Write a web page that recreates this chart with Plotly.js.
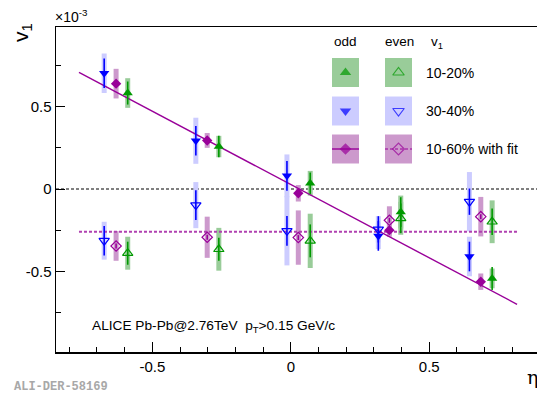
<!DOCTYPE html>
<html><head><meta charset="utf-8">
<script src="https://cdn.plot.ly/plotly-3.0.1.min.js"></script>
<style>html,body{margin:0;padding:0;background:#fff}#chart{width:537px;height:393px}</style>
</head><body><div id="chart"></div>
<script>
// ---------- data (v1 in units of 1e-3) ----------
const etaBlue   = [-0.674, -0.343, -0.014, 0.316, 0.645];
const etaPurple = [-0.631, -0.302,  0.027, 0.356, 0.686];
const etaGreen  = [-0.589, -0.260,  0.070, 0.397, 0.727];

// 10-20% (green)
const v1Odd1020     = [0.583, 0.258, 0.035, -0.140, -0.543];
const statOdd1020   = [0.070, 0.065, 0.065, 0.090, 0.070];
const sysOdd1020    = [0.090, 0.065, 0.075, 0.100, 0.060];
const v1Even1020    = [-0.390, -0.366, -0.315, -0.178, -0.199];
const statEven1020  = [0.070, 0.070, 0.100, 0.090, 0.080];
const sysEven1020   = [0.100, 0.130, 0.165, 0.100, 0.130];
// 30-40% (blue)
const v1Odd3040     = [0.703, 0.293, 0.080, -0.285, -0.410];
const statOdd3040   = [0.090, 0.090, 0.090, 0.090, 0.090];
const sysOdd3040    = [0.120, 0.140, 0.130, 0.080, 0.120];
const v1Even3040    = [-0.314, -0.098, -0.254, -0.245, -0.077];
const statEven3040  = [0.090, 0.090, 0.090, 0.080, 0.080];
const sysEven3040   = [0.115, 0.140, 0.210, 0.080, 0.180];
// 10-60% (purple)
const v1Odd1060     = [0.640, 0.295, -0.026, -0.250, -0.563];
const statOdd1060   = [0.015, 0.015, 0.015, 0.015, 0.015];
const sysOdd1060    = [0.090, 0.045, 0.050, 0.040, 0.050];
const v1Even1060    = [-0.346, -0.293, -0.295, -0.190, -0.168];
const statEven1060  = [0.015, 0.015, 0.015, 0.015, 0.015];
const sysEven1060   = [0.090, 0.125, 0.165, 0.085, 0.120];

// fit of odd 10-60%: v1 = p0 + p1*eta ; even constant level
const fitParams = [0.027, -0.89];
const fitRange  = [-0.765, 0.817];
const evenLevel = [-0.259];

const xTickVals = [-0.5, 0, 0.5];
const xTickText = ['-0.5', '0', '0.5'];
const yTickVals = [-0.5, 0, 0.5];
const yTickText = ['-0.5', '0', '0.5'];

// ---------- styling ----------
const GREEN = '#009900', GREEN_S = '#99cc99';
const BLUE = '#0000ff', BLUE_S = '#ccccff';
const PURP = '#990099', PURP_S = '#cc99cc';
const FONT = 'Liberation Sans, Arial, sans-serif';

// pixel frame
const L = 56, R = 537, T = 27, B = 352;
const px = x => (x - L) / (R - L);
const py = y => (B - y) / (B - T);

function sysTrace(x, y, e, col) {
  return {x, y, type: 'scatter', mode: 'markers', marker: {opacity: 0, size: 1},
    error_y: {type: 'data', array: e, visible: true, color: col, thickness: 5, width: 0},
    hoverinfo: 'skip', showlegend: false};
}
function ptTrace(x, y, e, col, sym, size, open) {
  return {x, y, type: 'scatter', mode: 'markers',
    marker: {symbol: sym, size: size, color: col,
             line: {color: col, width: open ? 1.2 : 0}},
    error_y: {type: 'data', array: e, visible: true, color: col, thickness: 1.6, width: 0},
    showlegend: false};
}

const fitX = fitRange;
const fitY = fitRange.map(x => fitParams[0] + fitParams[1] * x);

const traces = [
  sysTrace(etaBlue, v1Odd3040, sysOdd3040, BLUE_S),
  sysTrace(etaBlue, v1Even3040, sysEven3040, BLUE_S),
  sysTrace(etaPurple, v1Odd1060, sysOdd1060, PURP_S),
  sysTrace(etaPurple, v1Even1060, sysEven1060, PURP_S),
  sysTrace(etaGreen, v1Odd1020, sysOdd1020, GREEN_S),
  sysTrace(etaGreen, v1Even1020, sysEven1020, GREEN_S),
  {x: fitRange, y: [evenLevel[0], evenLevel[0]], type: 'scatter', mode: 'lines',
   line: {color: '#b040b0', width: 2, dash: '3px,2px'}, showlegend: false, hoverinfo: 'skip'},
  {x: fitX, y: fitY, type: 'scatter', mode: 'lines',
   line: {color: PURP, width: 1.4}, showlegend: false, hoverinfo: 'skip'},
  ptTrace(etaBlue, v1Odd3040, statOdd3040, BLUE, 'triangle-down', 9, false),
  ptTrace(etaBlue, v1Even3040, statEven3040, BLUE, 'triangle-down-open', 9, true),
  ptTrace(etaPurple, v1Odd1060, statOdd1060, PURP, 'diamond', 8, false),
  ptTrace(etaPurple, v1Even1060, statEven1060, PURP, 'diamond-open', 8, true),
  ptTrace(etaGreen, v1Odd1020, statOdd1020, GREEN, 'triangle-up', 9, false),
  ptTrace(etaGreen, v1Even1020, statEven1020, GREEN, 'triangle-up-open', 9, true),
];

// ---------- legend (layout decoration, pixel positions) ----------
const legCols = [345.5, 398.5];
const legRows = [72.5, 111, 149];
const legBoxW = 27, legBoxH = 29;
const legFill = [GREEN_S, BLUE_S, PURP_S];
const legCol  = [GREEN, BLUE, PURP];
const legSymOdd  = ['triangle-up', 'triangle-down', 'diamond'];
const legSymEven = ['triangle-up-open', 'triangle-down-open', 'diamond-open'];
const legText = ['10-20%', '30-40%', '10-60% with fit'];

const shapes = [
  {type: 'line', xref: 'paper', yref: 'y', x0: 0, x1: 1, y0: 0, y1: 0,
   line: {color: '#000', width: 1, dash: '3px,2px'}, layer: 'below'}
];
const legX = [], legY = [], legSym = [], legC = [], legW = [];
legRows.forEach((ry, i) => {
  legCols.forEach((cx, j) => {
    shapes.push({type: 'rect', xref: 'paper', yref: 'paper',
      x0: px(cx - legBoxW / 2), x1: px(cx + legBoxW / 2),
      y0: py(ry + legBoxH / 2), y1: py(ry - legBoxH / 2),
      fillcolor: legFill[i], line: {width: 0}, layer: 'below'});
    legX.push(cx); legY.push(ry);
    legSym.push(j === 0 ? legSymOdd[i] : legSymEven[i]);
    legC.push(legCol[i]);
    legW.push(j === 0 ? 0 : 1.2);
  });
});
// fit lines through the 10-60% keys
shapes.push({type: 'line', xref: 'paper', yref: 'paper',
  x0: px(legCols[0] - legBoxW / 2), x1: px(legCols[0] + legBoxW / 2),
  y0: py(legRows[2]), y1: py(legRows[2]), line: {color: PURP, width: 1.4}, layer: 'below'});
shapes.push({type: 'line', xref: 'paper', yref: 'paper',
  x0: px(legCols[1] - legBoxW / 2), x1: px(legCols[1] + legBoxW / 2),
  y0: py(legRows[2]), y1: py(legRows[2]), line: {color: PURP, width: 1.2, dash: '3px,2px'}, layer: 'below'});

traces.push({x: legX, y: legY, xaxis: 'x2', yaxis: 'y2', type: 'scatter', mode: 'markers',
  marker: {symbol: legSym, size: legSym.map(s => s.startsWith('diamond') ? 9 : 10), color: legC,
           line: {color: legC, width: legW}},
  showlegend: false, hoverinfo: 'skip', cliponaxis: false});

const ann = (x, y, text, opts) => Object.assign({xref: 'paper', yref: 'paper', x: px(x), y: py(y),
  text, showarrow: false, xanchor: 'left', yanchor: 'middle',
  font: {family: FONT, size: 13.5, color: '#000'}}, opts || {});

const annotations = [
  ann(332, 41, 'odd'),
  ann(383, 41, 'even'),
  ann(429, 43, 'v<sub>1</sub>'),
  ann(424, legRows[0], legText[0], {font: {family: FONT, size: 14, color: '#000'}}),
  ann(424, legRows[1], legText[1], {font: {family: FONT, size: 14, color: '#000'}}),
  ann(424, legRows[2], legText[2], {font: {family: FONT, size: 14, color: '#000'}}),
  ann(90, 326, 'ALICE Pb-Pb@2.76TeV  p<sub>T</sub>>0.15 GeV/c', {font: {family: FONT, size: 13.7, color: '#000'}}),
  ann(53, 16, '×10<sup>-3</sup>', {font: {family: FONT, size: 14, color: '#000'}}),
  ann(22, 33, 'v<sub>1</sub>', {xanchor: 'center', textangle: -90, font: {family: FONT, size: 21, color: '#000'}}),
  ann(532, 377, 'η', {xanchor: 'center', font: {family: 'DejaVu Serif, serif', size: 19, color: '#000'}}),
  ann(12, 387, 'ALI-DER-58169', {font: {family: 'Liberation Mono, Courier New, monospace', size: 12, color: '#a8a8a8', weight: 'bold'}}),
];

const layout = {
  width: 537, height: 393,
  margin: {l: L, r: 537 - R, t: T, b: 393 - B, pad: 0},
  paper_bgcolor: '#fff', plot_bgcolor: '#fff',
  showlegend: false,
  font: {family: FONT, size: 14, color: '#000'},
  xaxis: {range: [-0.848, 0.889], showgrid: false, zeroline: false,
    showline: true, linecolor: '#000', linewidth: 1.5, mirror: true,
    tickmode: 'array', tickvals: xTickVals, ticktext: xTickText,
    ticks: 'inside', ticklen: 10, tickwidth: 1, tickcolor: '#000',
    tickfont: {family: FONT, size: 15, color: '#000'},
    minor: {tickmode: 'linear', tick0: 0, dtick: 0.1, ticks: 'inside', ticklen: 5, tickwidth: 1, tickcolor: '#000'}},
  yaxis: {range: [-0.99, 0.984], showgrid: false, zeroline: false,
    showline: true, linecolor: '#000', linewidth: 1.5,
    tickmode: 'array', tickvals: yTickVals, ticktext: yTickText,
    ticks: 'inside', ticklen: 9, tickwidth: 1, tickcolor: '#000',
    tickfont: {family: FONT, size: 15, color: '#000'},
    minor: {tickmode: 'linear', tick0: 0, dtick: 0.25, ticks: 'inside', ticklen: 5, tickwidth: 1, tickcolor: '#000'}},
  xaxis2: {overlaying: 'x', range: [L, R], visible: false, fixedrange: true},
  yaxis2: {overlaying: 'y', range: [B, T], visible: false, fixedrange: true},
  shapes, annotations
};

Plotly.newPlot('chart', traces, layout, {displayModeBar: false, staticPlot: true});
</script></body></html>
